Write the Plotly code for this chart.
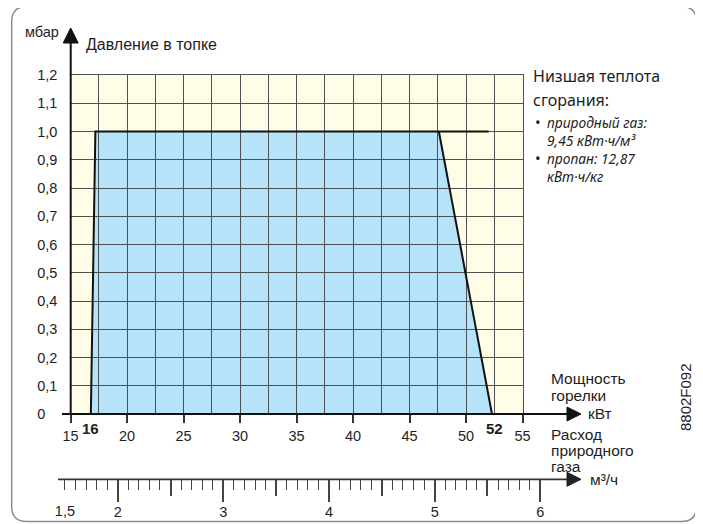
import numpy as np
import plotly.graph_objects as go

W, H = 703, 524
OFF = 8  # page body margin of the browser

# ---------------- data ----------------
kw_ticks = [15, 20, 25, 30, 35, 40, 45, 50, 55]
kw_tick_labels = ["15", "20", "25", "30", "35", "40", "45", "50", "55"]
kw_grid = [15, 17.5, 20, 22.5, 25, 27.5, 30, 32.5, 35, 37.5, 40, 42.5, 45, 47.5, 50, 52.5, 55]

pressure_ticks = [0, 0.1, 0.2, 0.3, 0.4, 0.5, 0.6, 0.7, 0.8, 0.9, 1.0, 1.1, 1.2]
pressure_tick_labels = ["0\u2008\u2007", "0,1", "0,2", "0,3", "0,4", "0,5", "0,6",
                        "0,7", "0,8", "0,9", "1,0", "1,1", "1,2"]

flow_major = [2, 3, 4, 5, 6]
flow_major_labels = ["2", "3", "4", "5", "6"]
flow_half = [2.5, 3.5, 4.5, 5.5]
flow_start = [1.5]
flow_start_label = ["1,5"]
flow_minor = [round(v, 1) for v in np.arange(1.5, 6.001, 0.1)]

# working field of the burner (kW, mbar)
field_kw = [16.8, 17.2, 47.6, 52.3]
field_mbar = [0.0, 1.0, 1.0, 0.0]
top_line_end_kw = 52.0
min_label, max_label = "16", "52"

# ---------------- helpers ----------------
def fx(px):
    return (px - OFF) / W


def fy(py):
    return 1 - (py - OFF) / H


GRID = "#505050"
TXT = "#1e1e1e"
FONT = "Liberation Sans, Arial, sans-serif"
FONT2 = "Noto Sans, Lato, sans-serif"

fig = go.Figure()

# outline of the working field
fig.add_trace(go.Scatter(
    x=[field_kw[0], field_kw[1], top_line_end_kw, None, field_kw[2], field_kw[3]],
    y=[field_mbar[0], field_mbar[1], field_mbar[1], None, field_mbar[2], field_mbar[3]],
    mode="lines", line=dict(color="#111111", width=2),
    hoverinfo="skip", showlegend=False, cliponaxis=False,
))
# dummy traces for the flow axes
for xa in ["x2", "x3", "x4"]:
    fig.add_trace(go.Scatter(x=[], y=[], xaxis=xa, yaxis="y2",
                             hoverinfo="skip", showlegend=False))

field_path = "M " + " L ".join(f"{x},{y}" for x, y in zip(field_kw, field_mbar)) + " Z"

shapes = [
    dict(type="rect", xref="x domain", yref="y domain", x0=0, x1=1, y0=0, y1=1,
         fillcolor="#FFFDE7", line=dict(width=0), layer="below"),
    dict(type="path", xref="x", yref="y", path=field_path,
         fillcolor="#B6E3F8", line=dict(width=0), layer="below"),
]


def pline(x0, y0, x1, y1, color="#111111", width=2):
    return dict(type="line", xref="paper", yref="paper",
                x0=fx(x0), y0=fy(y0), x1=fx(x1), y1=fy(y1),
                line=dict(color=color, width=width))


def tri(pts, color="#111111"):
    p = "M " + " L ".join(f"{fx(a)},{fy(b)}" for a, b in pts) + " Z"
    return dict(type="path", xref="paper", yref="paper", path=p,
                fillcolor=color, line=dict(color=color, width=1))


shapes += [
    pline(70.7, 414, 70.7, 40),
    tri([(70.7, 28), (63.2, 43), (78.2, 43)]),
    pline(62, 414, 568, 414),
    tri([(581, 414), (567, 407), (567, 421)]),
    pline(58, 479.3, 568, 479.3, color="#333333", width=1.8),
    tri([(581, 479.3), (567, 472.3), (567, 486.3)], color="#222222"),
]

L, T, R, B, r = 11.7, 6.5, 696.5, 521.5, 15
frame = (f"M {fx(L + r)},{fy(T)} L {fx(R - r)},{fy(T)} Q {fx(R)},{fy(T)} {fx(R)},{fy(T + r)} "
         f"L {fx(R)},{fy(B - r)} Q {fx(R)},{fy(B)} {fx(R - r)},{fy(B)} "
         f"L {fx(L + r)},{fy(B)} Q {fx(L)},{fy(B)} {fx(L)},{fy(B - r)} "
         f"L {fx(L)},{fy(T + r)} Q {fx(L)},{fy(T)} {fx(L + r)},{fy(T)} Z")
shapes.append(dict(type="path", xref="paper", yref="paper", path=frame,
                   line=dict(color="#8C8C8C", width=1.5)))


def ann(text, x, y, size=15, xanchor="left", family=FONT, **kw):
    d = dict(text=text, x=fx(x), y=fy(y), xref="paper", yref="paper",
             xanchor=xanchor, yanchor="middle", showarrow=False,
             font=dict(family=family, size=size, color=TXT))
    d.update(kw)
    return d


annotations = [
    ann("мбар", 61, 32, size=14.5, xanchor="right"),
    ann("Давление в топке", 84, 45, size=16),
    ann("Низшая теплота", 531, 76, size=16, family=FONT2),
    ann("сгорания:", 531, 100, size=16, family=FONT2),
    ann("•", 533, 122, size=15, family=FONT2),
    ann("•", 533, 158, size=15, family=FONT2),
    ann("<i>природный газ:<br>9,45 кВт·ч/м³<br>пропан: 12,87<br>кВт·ч/кг</i>",
        545, 149, size=13.8, family=FONT2, align="left"),
    ann("Мощность", 549, 378, size=15.5),
    ann("горелки", 549, 395, size=15.5),
    ann("кВт", 586, 413, size=15.5),
    ann("Расход", 549, 434, size=15.5),
    ann("природного", 549, 450, size=15.5),
    ann("газа", 549, 466, size=15.5),
    ann("м³/ч", 588, 479, size=15.5),
    ann("8802F092", 685, 397, size=15, xanchor="center", textangle=-90),
    dict(text=f"<b>{min_label}</b>", x=field_kw[0], y=fy(428), xref="x", yref="paper",
         xanchor="center", yanchor="middle", showarrow=False,
         font=dict(family=FONT, size=15, color=TXT)),
    dict(text=f"<b>{max_label}</b>", x=field_kw[3] + 0.2, y=fy(428), xref="x", yref="paper",
         xanchor="center", yanchor="middle", showarrow=False,
         font=dict(family=FONT, size=15, color=TXT)),
]

common_tick_font = dict(family=FONT, size=14.5, color=TXT)

fig.update_layout(
    width=W, height=H, template="none",
    margin=dict(l=0, r=0, t=0, b=0, pad=0),
    paper_bgcolor="white", plot_bgcolor="rgba(0,0,0,0)",
    showlegend=False, font=dict(family=FONT, size=14, color=TXT),
    xaxis=dict(
        domain=[fx(70.5), fx(522.5)], range=[15, 55], anchor="y",
        tickmode="array", tickvals=kw_ticks, ticktext=kw_tick_labels,
        ticks="outside", ticklen=8, tickwidth=1.5, tickcolor="#333333",
        showgrid=True, gridcolor=GRID, gridwidth=1.3,
        minor=dict(tickmode="array", tickvals=kw_grid, showgrid=True,
                   gridcolor=GRID, gridwidth=1.3, ticks=""),
        showline=True, mirror=True, linecolor=GRID, linewidth=1.3,
        zeroline=False, fixedrange=True, automargin=False,
        tickfont=common_tick_font,
    ),
    yaxis=dict(
        domain=[fy(414), fy(75)], range=[0, 1.2], anchor="x",
        tickmode="array", tickvals=pressure_ticks, ticktext=pressure_tick_labels,
        ticks="", ticklabelstandoff=9,
        showgrid=True, gridcolor=GRID, gridwidth=1.3,
        showline=True, mirror=True, linecolor=GRID, linewidth=1.3,
        zeroline=False, fixedrange=True, automargin=False,
        tickfont=common_tick_font,
    ),
    yaxis2=dict(domain=[fy(479.3), fy(479.3) + 0.02], range=[0, 1], anchor="x2",
                visible=False, fixedrange=True, automargin=False),
    xaxis2=dict(
        domain=[fx(64.9), fx(540.3)], range=[1.5, 6.0], anchor="y2", side="bottom",
        tickmode="array", tickvals=flow_major, ticktext=flow_major_labels,
        ticks="outside", ticklen=22, tickwidth=1.6, tickcolor="#444444",
        ticklabelstandoff=-3,
        minor=dict(tickmode="array", tickvals=flow_minor, ticks="outside",
                   ticklen=10, tickwidth=1.4, tickcolor="#444444", showgrid=False),
        showgrid=False, showline=False, zeroline=False, fixedrange=True,
        automargin=False, tickfont=common_tick_font,
    ),
    xaxis3=dict(
        overlaying="x2", anchor="y2", range=[1.5, 6.0], side="bottom",
        tickmode="array", tickvals=flow_half, ticktext=[""] * len(flow_half),
        ticks="outside", ticklen=16, tickwidth=1.5, tickcolor="#444444",
        showgrid=False, showline=False, zeroline=False, fixedrange=True,
        automargin=False, showticklabels=False,
    ),
    xaxis4=dict(
        overlaying="x2", anchor="y2", range=[1.5, 6.0], side="bottom",
        tickmode="array", tickvals=flow_start, ticktext=flow_start_label,
        ticks="", ticklabelstandoff=21,
        showgrid=False, showline=False, zeroline=False, fixedrange=True,
        automargin=False, tickfont=common_tick_font,
    ),
    shapes=shapes,
    annotations=annotations,
)

fig.write_html("out.html")
